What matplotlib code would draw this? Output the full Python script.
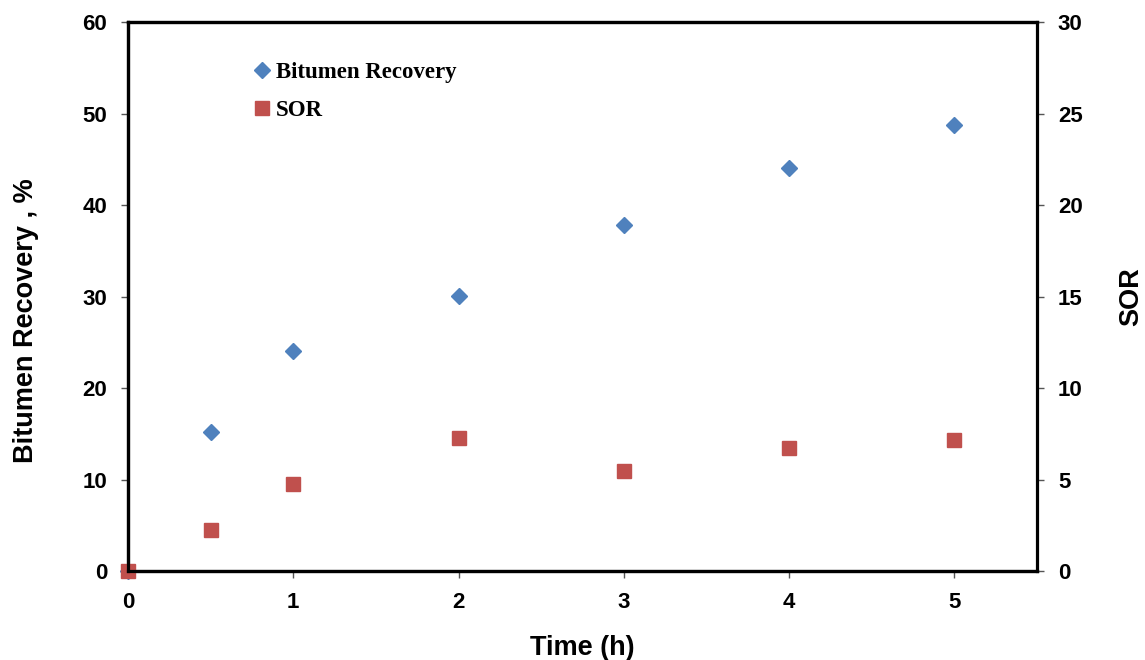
import numpy as np
import matplotlib.pyplot as plt

# Dữ liệu
time_h = [0, 0.5, 1, 2, 3, 4, 5]
recovery = [0, 15.2, 24.0, 30.1, 37.8, 44.1, 48.7]
sor = [0, 2.25, 4.75, 7.25, 5.45, 6.7, 7.15]

x_ticks = [0, 1, 2, 3, 4, 5]
left_ticks = np.arange(0, 61, 10)
right_ticks = np.arange(0, 31, 5)

blue = '#4F81BD'
red = '#C0504D'

fig = plt.figure(figsize=(11.45, 6.6), dpi=100)
ax = fig.add_axes([0.1118, 0.1348, 0.7939, 0.8318])
ax2 = ax.twinx()

ax.plot(time_h, recovery, linestyle='none', marker='D', markersize=8.5,
        color=blue, markeredgecolor=blue, label='Bitumen Recovery', clip_on=False)
ax2.plot(time_h, sor, linestyle='none', marker='s', markersize=10.5,
         color=red, markeredgecolor=red, label='SOR', clip_on=False)

ax.set_xlim(0, 5.5)
ax.set_ylim(0, 60)
ax2.set_ylim(0, 30)
ax.set_xticks(x_ticks)
ax.set_yticks(left_ticks)
ax2.set_yticks(right_ticks)

tick_font = {'family': 'Liberation Sans', 'weight': 'bold', 'size': 16}
ax.set_xticklabels([str(t) for t in x_ticks], fontdict=tick_font)
ax.set_yticklabels([str(t) for t in left_ticks], fontdict=tick_font)
ax2.set_yticklabels([str(t) for t in right_ticks], fontdict=tick_font)

for a in (ax, ax2):
    for s in a.spines.values():
        s.set_linewidth(2.3)
    a.tick_params(direction='out', length=5, width=1, color='#555555', pad=10)
ax.spines['right'].set_visible(False)

label_font = {'family': 'Liberation Sans', 'weight': 'bold', 'size': 19.5}
ax.set_xlabel('Time (h)', fontdict=label_font, labelpad=16)
ax.set_ylabel('Bitumen Recovery , %', fontdict=label_font)
ax.yaxis.set_label_coords(-0.098, 0.457)
ax2.set_ylabel('SOR', fontdict=label_font, labelpad=26, rotation=90)

h1, l1 = ax.get_legend_handles_labels()
h2, l2 = ax2.get_legend_handles_labels()
ax.legend(h1 + h2, l1 + l2, loc='upper left', bbox_to_anchor=(0.117, 0.965),
          frameon=False, handlelength=0.6, handletextpad=0.3, labelspacing=0.75,
          prop={'family': 'Liberation Serif', 'weight': 'bold', 'size': 16.5})

plt.savefig('out.png', dpi=100)
